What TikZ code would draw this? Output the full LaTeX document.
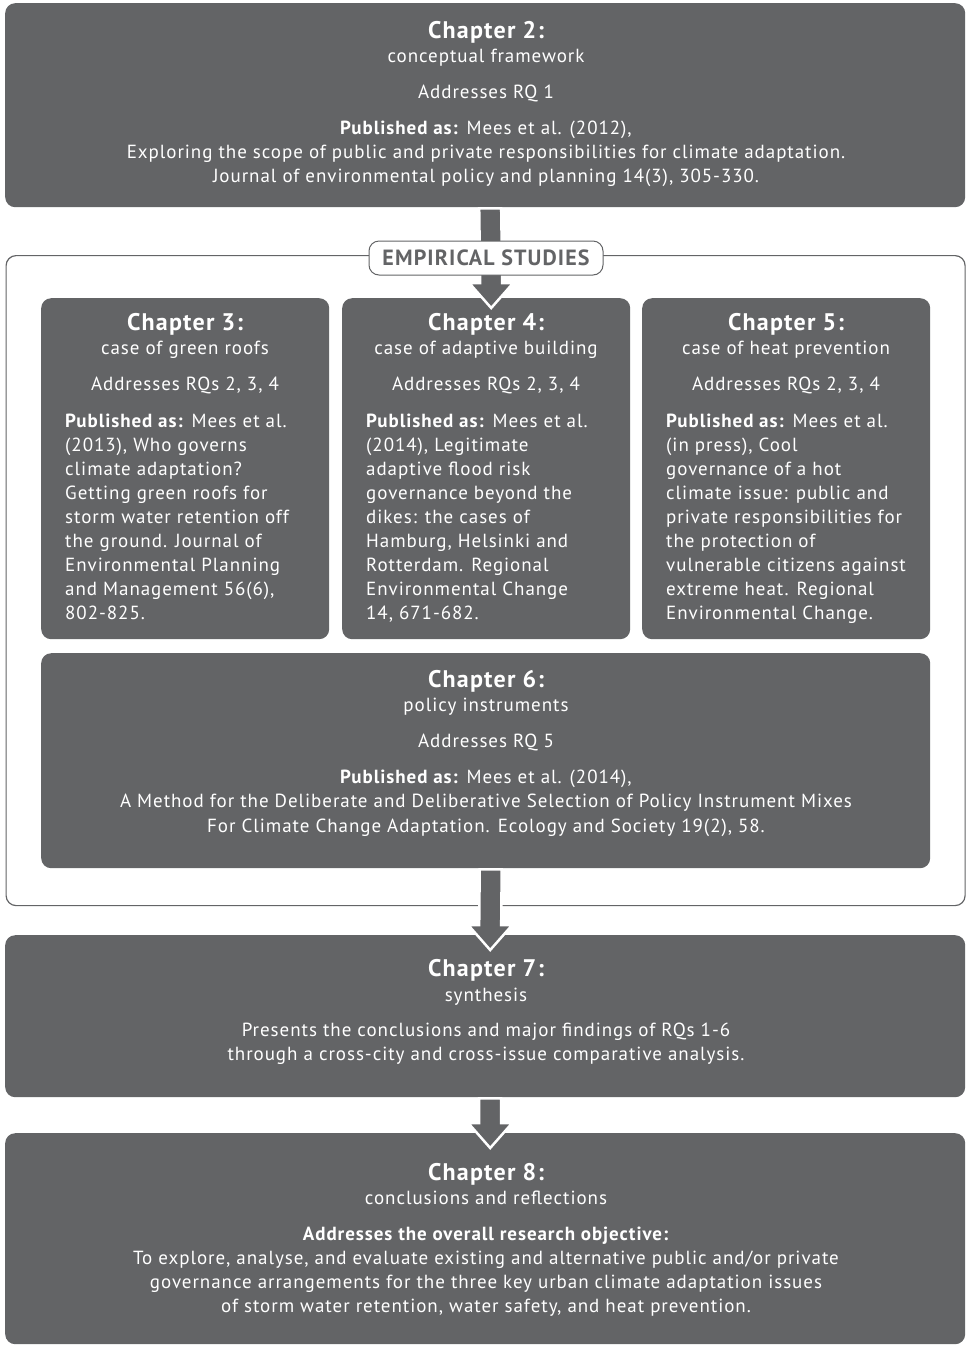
\documentclass[tikz,border=0pt]{standalone}
\usepackage{fontspec}
\setmainfont{PT Sans}[LetterSpace=5]
\usetikzlibrary{calc}
\definecolor{boxgray}{HTML}{636466}
\tikzset{
  box/.style={fill=boxgray, rounded corners=10pt, inner sep=0pt},
  frame/.style={draw=boxgray, line width=1.2pt, rounded corners=10pt, inner sep=0pt},
  head/.style={text=white, font=\fontsize{24}{24}\selectfont\bfseries, anchor=base, inner sep=0pt},
  txt/.style={text=white, font=\fontsize{19}{24}\selectfont, anchor=base, inner sep=0pt},
  txtl/.style={txt, anchor=base west},
  label/.style={draw=boxgray, fill=white, line width=1pt, rounded corners=10pt, text=boxgray,
     font=\fontsize{22}{22}\selectfont\bfseries, minimum width=234pt, minimum height=34pt, inner sep=0pt},
  bigarrow/.style={fill=boxgray, draw=white, line width=2.5pt, line join=miter}
}
\newcommand\bigarrowpath[3]{% from node anchor #1 to node anchor #2, tip offset #3
  \path[bigarrow] ($(#1)+(-6,1)$) -- ($(#2)+(-6,#3-25)$) -- ($(#2)+(-17,#3-25)$) -- ($(#2)+(5,#3)$)
     -- ($(#2)+(27,#3-25)$) -- ($(#2)+(16,#3-25)$) -- ($(#1)+(16,1)$) -- cycle;}
\begin{document}
\begin{tikzpicture}[x=1pt,y=-1pt]
\useasboundingbox (0,0) rectangle (966,1345);
% frame
\node[frame, minimum width=959pt, minimum height=650pt, anchor=north west] (frame) at (5.5,255) {};
% boxes
\node[box, minimum width=960pt, minimum height=204pt, anchor=north west] (ch2) at (5,3) {};
\node[box, minimum width=288pt, minimum height=341pt, anchor=north west] (ch3) at (41,298) {};
\node[box, minimum width=288pt, minimum height=341pt, anchor=north west] (ch4) at (342,298) {};
\node[box, minimum width=288pt, minimum height=341pt, anchor=north west] (ch5) at (642,298) {};
\node[box, minimum width=889pt, minimum height=215pt, anchor=north west] (ch6) at (41,653) {};
\node[box, minimum width=960pt, minimum height=162pt, anchor=north west] (ch7) at (5,935) {};
\node[box, minimum width=960pt, minimum height=211pt, anchor=north west] (ch8) at (5,1133) {};
% arrows
\bigarrowpath{ch2.south}{ch4.north}{10}
\bigarrowpath{ch6.south}{ch7.north}{15}
\bigarrowpath{ch7.south}{ch8.north}{15}
\node[label] (emp) at (486,258) {EMPIRICAL STUDIES};
% chapter 2
\node[head] (h2) at (486,38) {Chapter 2:};
\node[txt] (s2) at (486,62) {conceptual framework};
\node[txt] (r2) at (486,98) {Addresses RQ 1};
\node[txt] (p2a) at (486,134) {\textbf{Published as:} Mees et al. (2012),};
\node[txt] (p2b) at (486,158) {Exploring the scope of public and private responsibilities for climate adaptation.};
\node[txt] (p2c) at (486,182) {Journal of environmental policy and planning 14(3), 305-330.};
% chapter 3
\node[head] (h3) at (185,330) {Chapter 3:};
\node[txt] (s3) at (185,354) {case of green roofs};
\node[txt] (r3) at (185,390) {Addresses RQs 2, 3, 4};
\foreach \t [count=\i] in {{\textbf{Published as:} Mees et al.},{(2013), Who governs},{climate adaptation?},{Getting green roofs for},{storm water retention off},{the ground. Journal of},{Environmental Planning},{and Management 56(6),},{802-825.}}
  \node[txtl] (c3l\i) at (65,{427+24*(\i-1)}) {\t};
% chapter 4
\node[head] (h4) at (486,330) {Chapter 4:};
\node[txt] (s4) at (486,354) {case of adaptive building};
\node[txt] (r4) at (486,390) {Addresses RQs 2, 3, 4};
\foreach \t [count=\i] in {{\textbf{Published as:} Mees et al.},{(2014), Legitimate},{adaptive flood risk},{governance beyond the},{dikes: the cases of},{Hamburg, Helsinki and},{Rotterdam. Regional},{Environmental Change},{14, 671-682.}}
  \node[txtl] (c4l\i) at (366,{427+24*(\i-1)}) {\t};
% chapter 5
\node[head] (h5) at (786,330) {Chapter 5:};
\node[txt] (s5) at (786,354) {case of heat prevention};
\node[txt] (r5) at (786,390) {Addresses RQs 2, 3, 4};
\foreach \t [count=\i] in {{\textbf{Published as:} Mees et al.},{(in press), Cool},{governance of a hot},{climate issue: public and},{private responsibilities for},{the protection of},{vulnerable citizens against},{extreme heat. Regional},{Environmental Change.}}
  \node[txtl] (c5l\i) at (666,{427+24*(\i-1)}) {\t};
% chapter 6
\node[head] (h6) at (486,687) {Chapter 6:};
\node[txt] (s6) at (486,711) {policy instruments};
\node[txt] (r6) at (486,747) {Addresses RQ 5};
\node[txt] (p6a) at (486,783) {\textbf{Published as:} Mees et al. (2014),};
\node[txt] (p6b) at (486,807) {A Method for the Deliberate and Deliberative Selection of Policy Instrument Mixes};
\node[txt] (p6c) at (486,832) {For Climate Change Adaptation. Ecology and Society 19(2), 58.};
% chapter 7
\node[head] (h7) at (486,976) {Chapter 7:};
\node[txt] (s7) at (486,1001) {synthesis};
\node[txt] (p7a) at (486,1036) {Presents the conclusions and major findings of RQs 1-6};
\node[txt] (p7b) at (486,1060) {through a cross-city and cross-issue comparative analysis.};
% chapter 8
\node[head] (h8) at (486,1180) {Chapter 8:};
\node[txt] (s8) at (486,1204) {conclusions and reflections};
\node[txt] (p8a) at (486,1240) {\textbf{Addresses the overall research objective:}};
\node[txt] (p8b) at (486,1264) {To explore, analyse, and evaluate existing and alternative public and/or private};
\node[txt] (p8c) at (486,1288) {governance arrangements for the three key urban climate adaptation issues};
\node[txt] (p8d) at (486,1312) {of storm water retention, water safety, and heat prevention.};
\end{tikzpicture}
\end{document}
